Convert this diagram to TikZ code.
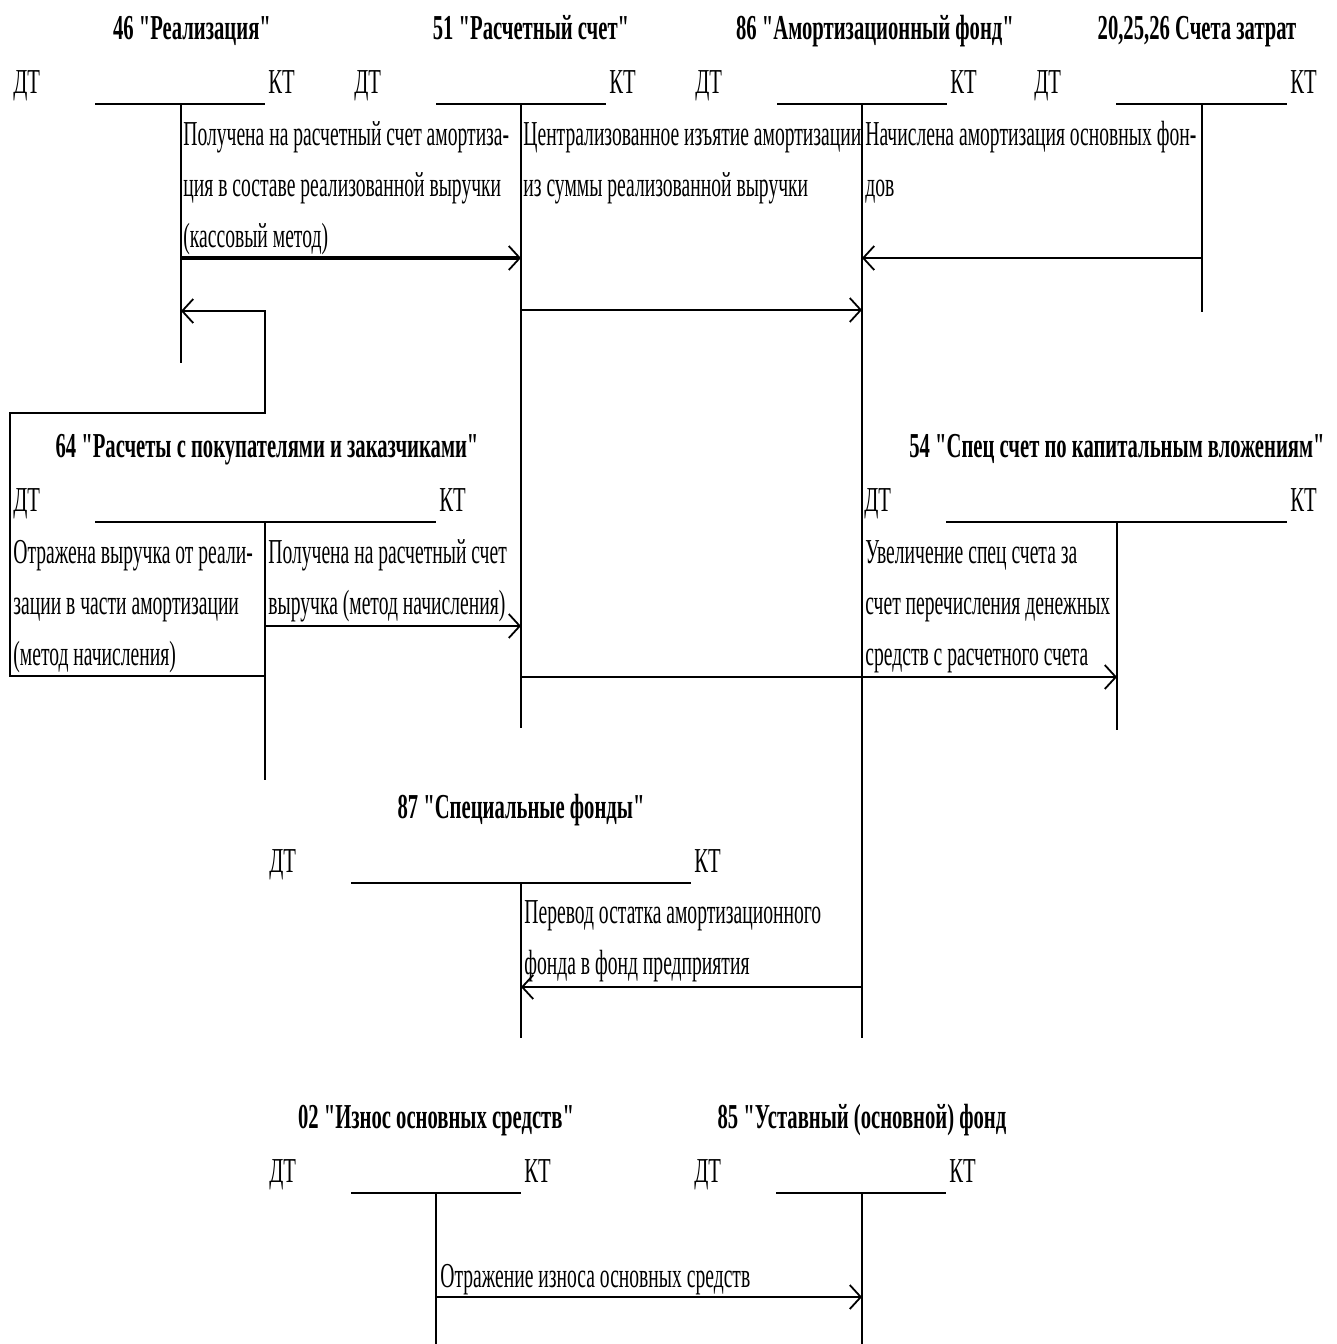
\documentclass[tikz,border=0pt]{standalone}
\usepackage{fontspec}
\setmainfont{Liberation Serif}[FakeStretch=0.59, Ligatures=TeXOff]
\newfontfamily\bodyfont{Liberation Serif}[FakeStretch=0.56, Ligatures=TeXOff]
\usetikzlibrary{arrows.meta}
\newcommand{\TAcc}[8]{%
  \node[ttl] (#1-title) at (#8,#5-65) {#7};
  \node[dk] (#1-dt) at (#2-82,#5-11) {ДТ};
  \node[dk] (#1-kt) at (#3+3,#5-11) {КТ};
  \coordinate (#1-l) at (#2,#5);
  \coordinate (#1-r) at (#3,#5);
  \coordinate (#1-top) at (#4,#5);
  \coordinate (#1-bot) at (#4,#6);
  \draw[tline] (#1-l) -- (#1-r);
  \draw[vline] (#1-top) -- (#1-bot);
}
\begin{document}
\begin{tikzpicture}[x=0.5pt,y=-0.5pt,
  txt/.style={font=\bodyfont\fontsize{17.5}{25.5}\selectfont, inner sep=0pt, anchor=base west, align=left},
  ttl/.style={font=\fontsize{17.5}{25.5}\selectfont\bfseries, inner sep=0pt, anchor=base},
  dk/.style={font=\fontsize{17.5}{25.5}\selectfont, inner sep=0pt, anchor=base west},
  tline/.style={line width=1.2pt},
  vline/.style={line width=0.75pt},
  arr/.style={line width=1.4pt, -{Straight Barb[length=5.5pt,width=12pt,line width=0.9pt]}},
  arrb/.style={arr, line width=2.2pt},
  boxarr/.style={line width=1pt, -{Straight Barb[length=5.5pt,width=12pt,line width=0.9pt]}}]
\useasboundingbox (0,0) rectangle (1337,1344);
\fill[white] (0,0) rectangle (1337,1344);

% T-accounts
\TAcc{a46}{95}{265}{181}{104}{363}{46 "Реализация"}{192}
\TAcc{a51}{436}{606}{521}{104}{728}{51 "Расчетный счет"}{531}
\TAcc{a86}{777}{947}{862}{104}{1038}{86 "Амортизационный фонд"}{875}
\TAcc{a20}{1116}{1287}{1202}{104}{312}{20,25,26 Счета затрат}{1197}
\TAcc{a64}{95}{436}{265}{522}{780}{64 "Расчеты с покупателями и заказчиками"}{267}
\TAcc{a54}{946}{1287}{1117}{522}{730}{54 "Спец счет по капитальным вложениям"}{1117}
\TAcc{a87}{351}{691}{521}{883}{1038}{87 "Специальные фонды"}{521}
\TAcc{a02}{351}{521}{436}{1193}{1344}{02 "Износ основных средств"}{436}
\TAcc{a85}{776}{946}{862}{1193}{1344}{85 "Уставный (основной) фонд}{862}

% texts (anchored at the baseline of their last line)
\node[txt] (t1) at (183,247) {Получена на расчетный счет амортиза-\\ция в составе реализованной выручки\\(кассовый метод)};
\node[txt] (t2) at (523,196) {Централизованное изъятие амортизации\\из суммы реализованной выручки};
\node[txt] (t3) at (865,196) {Начислена амортизация основных фон-\\дов};
\node[txt] (t4) at (13,665) {Отражена выручка от реали-\\зации в части амортизации\\(метод начисления)};
\node[txt] (t5) at (268,614) {Получена на расчетный счет\\выручка (метод начисления)};
\node[txt] (t6) at (865,665) {Увеличение спец счета за\\счет перечисления денежных\\средств с расчетного счета};
\node[txt] (t7) at (524,974) {Перевод остатка амортизационного\\фонда в фонд предприятия};
\node[txt] (t8) at (440,1287) {Отражение износа основных средств};

% connector end points
\coordinate (c1s) at (181,258); \coordinate (c1e) at (521,258);
\coordinate (c2s) at (1202,258); \coordinate (c2e) at (862,258);
\coordinate (c3s) at (521,310); \coordinate (c3e) at (862,310);
\coordinate (c4s) at (265,676); \coordinate (c4a) at (10,676);
\coordinate (c4b) at (10,413); \coordinate (c4c) at (265,413);
\coordinate (c4d) at (265,311); \coordinate (c4e) at (181,311);
\coordinate (c5s) at (265,626); \coordinate (c5e) at (521,626);
\coordinate (c6s) at (521,677); \coordinate (c6e) at (1117,677);
\coordinate (c7s) at (862,987); \coordinate (c7e) at (521,987);
\coordinate (c8s) at (436,1297); \coordinate (c8e) at (862,1297);

\draw[arrb] (c1s) -- (c1e);
\draw[arr] (c2s) -- (c2e);
\draw[arr] (c3s) -- (c3e);
\draw[boxarr] (c4s) -- (c4a) -- (c4b) -- (c4c) -- (c4d) -- (c4e);
\draw[arr] (c5s) -- (c5e);
\draw[arr] (c6s) -- (c6e);
\draw[arr] (c7s) -- (c7e);
\draw[arr] (c8s) -- (c8e);
\end{tikzpicture}
\end{document}
